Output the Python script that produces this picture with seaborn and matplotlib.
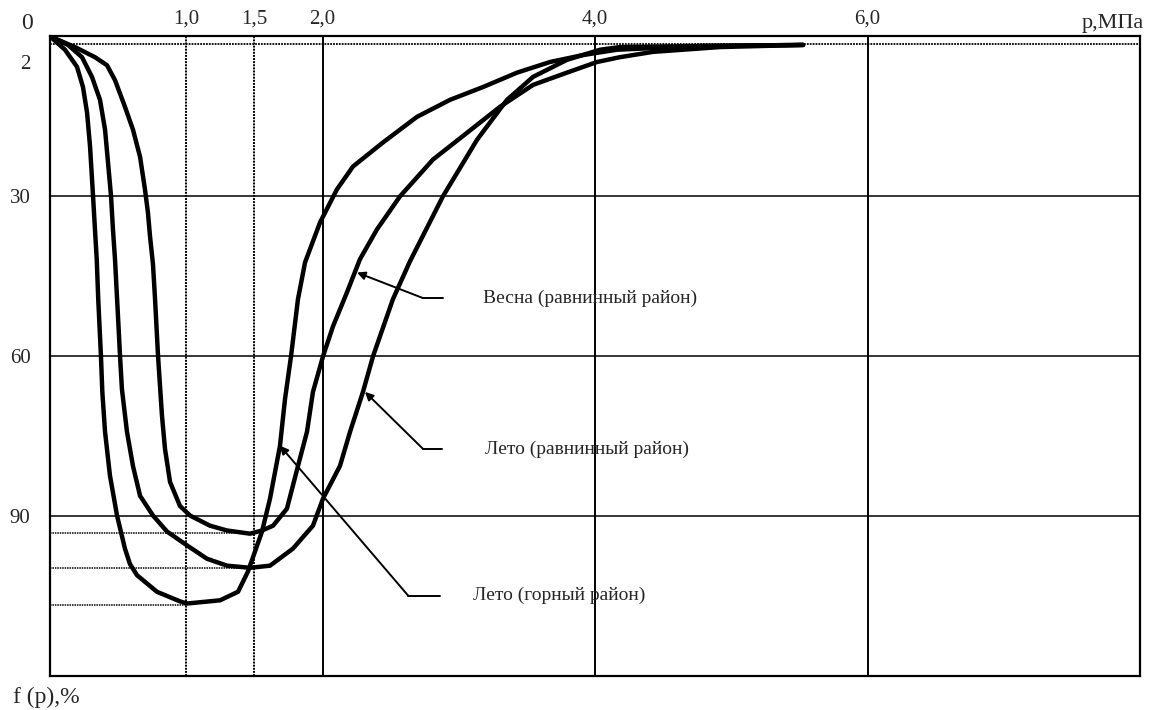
import pandas as pd
import numpy as np
import seaborn as sns
import matplotlib.pyplot as plt

# кривые f(p), p в МПа, f в %
p_gorn = [0, 0.110, 0.198, 0.242, 0.272, 0.294, 0.316, 0.330, 0.343, 0.354, 0.374, 0.384,
          0.404, 0.440, 0.492, 0.550, 0.587, 0.639, 0.785, 0.954, 1.006, 1.248, 1.380, 1.453,
          1.556, 1.615, 1.688, 1.725, 1.769, 1.820, 1.872, 1.982, 2.106, 2.224, 2.444, 2.693,
          2.936, 3.178, 3.428, 3.670, 3.912, 4.161, 4.771, 5.527]
f_gorn = [0, 2.5, 5.7, 9.5, 14.3, 20.7, 30.0, 36.2, 41.8, 49.3, 60.0, 66.7,
          74.2, 82.4, 89.9, 96.1, 99.0, 101.1, 104.2, 106.0, 106.4, 105.8, 104.2, 100.4,
          92.9, 86.7, 76.8, 68.0, 60.0, 49.3, 42.4, 34.9, 28.7, 24.4, 19.9, 15.1,
          11.9, 9.5, 6.8, 4.8, 3.5, 2.5, 1.8, 1.6]

p_leto = [0, 0.132, 0.235, 0.308, 0.367, 0.404, 0.426, 0.448, 0.462, 0.477, 0.499, 0.514,
          0.528, 0.565, 0.609, 0.661, 0.756, 0.859, 1.006, 1.152, 1.299, 1.468, 1.615, 1.783,
          1.930, 2.004, 2.128, 2.202, 2.297, 2.371, 2.517, 2.642, 2.884, 3.134, 3.354, 3.545,
          3.794, 4.037, 4.183, 4.771, 5.527]
f_leto = [0, 1.6, 3.9, 7.6, 11.9, 17.5, 23.7, 30.0, 36.2, 41.8, 52.5, 60.0,
          66.2, 74.2, 80.6, 86.2, 89.9, 92.9, 95.5, 98.0, 99.3, 99.7, 99.3, 96.1,
          91.8, 86.7, 80.6, 74.2, 66.7, 60.0, 49.3, 42.2, 30.0, 19.4, 11.9, 7.6,
          4.4, 2.5, 2.0, 1.8, 1.6]

p_vesna = [0, 0.183, 0.330, 0.418, 0.477, 0.550, 0.609, 0.661, 0.697, 0.719, 0.734, 0.756,
           0.771, 0.793, 0.822, 0.844, 0.881, 0.954, 1.028, 1.174, 1.299, 1.468, 1.556, 1.637,
           1.739, 1.820, 1.886, 1.930, 2.004, 2.077, 2.180, 2.275, 2.400, 2.569, 2.811, 3.060,
           3.303, 3.545, 3.794, 4.015, 4.183, 4.426, 4.917, 5.527]
f_vesna = [0, 2.0, 3.9, 5.4, 8.2, 13.2, 17.5, 22.6, 28.7, 33.1, 37.5, 42.8,
           49.3, 60.0, 71.2, 77.4, 83.6, 88.1, 89.9, 91.8, 92.7, 93.3, 92.7, 91.8,
           88.6, 80.6, 74.2, 66.7, 60.0, 54.4, 48.0, 41.8, 36.2, 30.0, 23.1, 18.1,
           13.2, 9.1, 6.8, 4.8, 3.9, 2.9, 2.0, 1.6]

# минимумы кривых (пунктир от оси)
min_p = [1.45, 1.47, 1.0]
min_f = [93.2, 99.8, 106.6]

x_ticks = [1.0, 1.5, 2.0, 4.0, 6.0]
x_labels = ['1,0', '1,5', '2,0', '4,0', '6,0']
y_ticks = [4.8, 30, 60, 90]
y_labels = ['2', '30', '60', '90']

labels = ['Весна (равнинный район)', 'Лето (равнинный район)', 'Лето (горный район)']
# (наконечник стрелки, излом, конец полки)
arrow_tip = [(2.253, 44.3), (2.312, 66.7), (1.688, 76.8)]
arrow_bend = [(2.738, 49.1), (2.738, 77.4), (2.628, 104.9)]
shelf_end = [2.884, 2.877, 2.862]
text_x = [3.178, 3.193, 3.105]

df = pd.concat([
    pd.DataFrame({'p': p_vesna, 'f': f_vesna, 'curve': 'vesna'}),
    pd.DataFrame({'p': p_leto, 'f': f_leto, 'curve': 'leto'}),
    pd.DataFrame({'p': p_gorn, 'f': f_gorn, 'curve': 'gorn'}),
])

sns.set_style('white')
plt.rcParams['font.family'] = ['Liberation Serif', 'DejaVu Serif']

fig = plt.figure(figsize=(11.51, 7.10), dpi=100)
ax = fig.add_axes([50 / 1151, 34 / 710, 1090 / 1151, 639.6 / 710])

# сетка
for x in x_ticks:
    ls = (0, (1, 0.6)) if x < 2 else '-'
    ax.axvline(x, color='black', lw=1.4, ls=ls, zorder=1)
for y in [30, 60, 90]:
    ax.axhline(y, color='black', lw=1.1, zorder=1)
ax.axhline(1.4, color='black', lw=1.3, ls=(0, (1, 0.6)), zorder=1)
for mp, mf in zip(min_p, min_f):
    ax.plot([0, mp], [mf, mf], color='black', lw=1.1, ls=(0, (1, 0.6)), zorder=1)

sns.lineplot(data=df, x='p', y='f', hue='curve', palette=['black'] * 3,
             estimator=None, sort=False, legend=False, lw=3.2, ax=ax, zorder=3,
             solid_joinstyle='round', solid_capstyle='round')

for lab, tip, bend, se, tx in zip(labels, arrow_tip, arrow_bend, shelf_end, text_x):
    ax.plot([bend[0], se], [bend[1], bend[1]], color='black', lw=1.4)
    ax.annotate('', xy=tip, xytext=bend,
                arrowprops=dict(arrowstyle='-|>', color='black', lw=1.4,
                                mutation_scale=12, shrinkA=0, shrinkB=0))
    ax.text(tx, bend[1], lab, fontsize=14, va='center', ha='left')

ax.set_xlim(0, 8.0)
ax.set_ylim(120, 0)
ax.xaxis.tick_top()
ax.set_xticks(x_ticks)
ax.set_xticklabels(x_labels, fontsize=15)
ax.set_yticks(y_ticks)
ax.set_yticklabels(y_labels, fontsize=15)
ax.tick_params(length=0, pad=6)
ax.tick_params(axis='y', pad=14)
ax.set_xlabel('')
ax.set_ylabel('')
for s in ax.spines.values():
    s.set_color('black')
    s.set_linewidth(1.6)

ax.text(-0.17, -2.4, '0', fontsize=17, ha='center', va='center', clip_on=False)
ax.text(8.03, -2.4, 'p,МПа', fontsize=16, ha='right', va='center', clip_on=False)
fig.text(13 / 1151, 1 - 697 / 710, 'f (p),%', fontsize=17, ha='left', va='center')

fig.savefig('out.png', dpi=100)
